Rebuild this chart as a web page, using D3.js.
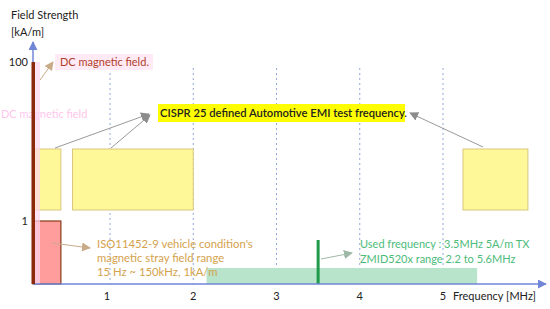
<!DOCTYPE html>
<html><head><meta charset="utf-8">
<script src="https://cdn.jsdelivr.net/npm/d3@7"></script>
<style>body{margin:0;background:#fff}svg{display:block;font-family:Lato,"Open Sans",sans-serif}</style>
</head><body><svg id="c" width="550" height="309"></svg>
<script>
const xTicks = [1, 2, 3, 4, 5];
const yTicks = [1, 100];
// CISPR bands: [x0 MHz, x1 MHz]
const cisprBands = [[0.09, 0.41], [0.55, 2.0], [5.24, 6.02]];
const isoBand = [0.075, 0.41, 0, 1];
const zmidBand = [2.16, 5.41];
const dcField = [0.075, 100];
const usedFreq = [3.5, 0.7];

const svg = d3.select("#c");
const x = d3.scaleLinear().domain([0, 5]).range([26.75, 443]);
const y = d3.scaleLinear().domain([0, 1, 100]).range([284, 221, 62]);

const defs = svg.append("defs");
function marker(id, color) {
  defs.append("marker").attr("id", id).attr("viewBox", "0 0 10 10").attr("refX", 9).attr("refY", 5)
    .attr("markerWidth", 9).attr("markerHeight", 9).attr("markerUnits", "userSpaceOnUse").attr("orient", "auto")
    .append("path").attr("d", "M0,0 L10,5 L0,10 z").attr("fill", color);
}
marker("ag", "#8c8c8c"); marker("at", "#c9ab8a"); marker("ab", "#6f86d6"); marker("agr", "#9fb8a8");

// dashed gridlines
svg.selectAll(".grid").data(xTicks).enter().append("line")
  .attr("x1", d => x(d)).attr("x2", d => x(d)).attr("y1", 68).attr("y2", 284)
  .attr("stroke", "#8fa9d9").attr("stroke-width", 1).attr("stroke-dasharray", "2,3");

// ghost pink text
svg.append("text").attr("x", 1).attr("y", 118).attr("font-size", 11).attr("fill", "#ffb3e6").attr("opacity", 0.75).text("DC magnetic field");

// CISPR yellow boxes
svg.selectAll(".cb").data(cisprBands).enter().append("rect")
  .attr("x", d => x(d[0])).attr("width", d => x(d[1]) - x(d[0]))
  .attr("y", 149).attr("height", 61)
  .attr("fill", "#fff899").attr("stroke", "#d9c77f").attr("stroke-width", 1);

// ZMID green band
svg.append("rect").attr("x", x(zmidBand[0])).attr("width", x(zmidBand[1]) - x(zmidBand[0]))
  .attr("y", 268).attr("height", 16).attr("fill", "#b9e4cc");

// ISO red box
svg.append("rect").attr("x", x(isoBand[0])).attr("width", x(isoBand[1]) - x(isoBand[0]))
  .attr("y", y(isoBand[3])).attr("height", y(isoBand[2]) - y(isoBand[3]))
  .attr("fill", "#ff9c9c").attr("stroke", "#8b3a1a").attr("stroke-width", 1.2);

// DC pink glow
svg.append("rect").attr("x", x(dcField[0])).attr("width", 7).attr("y", y(dcField[1])).attr("height", 284 - y(dcField[1])).attr("fill", "#ffd6ef").attr("opacity", 0.7);

// used frequency bar
svg.append("rect").attr("x", x(usedFreq[0]) - 1.5).attr("width", 3).attr("y", 240).attr("height", 44).attr("fill", "#1f9a4a");

// axes
svg.append("line").attr("x1", 33).attr("x2", 33).attr("y1", 284).attr("y2", 42).attr("stroke", "#6f86d6").attr("stroke-width", 1.5).attr("marker-end", "url(#ab)");
svg.append("line").attr("x1", 33).attr("x2", 546).attr("y1", 284).attr("y2", 284).attr("stroke", "#6f86d6").attr("stroke-width", 1.5).attr("marker-end", "url(#ab)");

// DC bar on top of axis
svg.append("rect").attr("x", x(dcField[0]) - 1.5).attr("width", 3.5).attr("y", y(dcField[1])).attr("height", 284 - y(dcField[1])).attr("fill", "#8b2a0a");

// tick labels
svg.selectAll(".xt").data(xTicks).enter().append("text")
  .attr("x", d => x(d) - (d === 1 ? 3 : 0)).attr("y", 300).attr("text-anchor", "middle").attr("font-size", 11).attr("fill", "#222").text(d => d);
svg.append("text").attr("x", 453).attr("y", 300).attr("font-size", 11).attr("fill", "#222").text("Frequency [MHz]");
svg.selectAll(".yt").data(yTicks).enter().append("text")
  .attr("x", 28).attr("y", d => y(d) + 4).attr("text-anchor", "end").attr("font-size", 11).attr("fill", "#222").text(d => d);
svg.append("text").attr("x", 11).attr("y", 19).attr("font-size", 11).attr("fill", "#222").text("Field Strength");
svg.append("text").attr("x", 11).attr("y", 36).attr("font-size", 11).attr("fill", "#222").text("[kA/m]");

// DC label
svg.append("rect").attr("x", 55).attr("y", 54).attr("width", 98).attr("height", 16).attr("fill", "#ffeaf5");
svg.append("text").attr("x", 60).attr("y", 66).attr("font-size", 11).attr("fill", "#b0402a").text("DC magnetic field.");
svg.append("line").attr("x1", 40).attr("y1", 80).attr("x2", 53).attr("y2", 62).attr("stroke", "#c9ab8a").attr("stroke-width", 1).attr("marker-end", "url(#at)");

// CISPR label
svg.append("rect").attr("x", 158).attr("y", 104).attr("width", 247).attr("height", 18).attr("fill", "#ffff00");
svg.append("text").attr("x", 160).attr("y", 117).attr("font-size", 11.2).attr("font-weight", 600).attr("fill", "#222").text("CISPR 25 defined Automotive EMI test frequency.");
[[55, 148, 149, 114], [111, 148, 150, 115], [483, 147, 410, 113]].forEach(a => {
  svg.append("line").attr("x1", a[0]).attr("y1", a[1]).attr("x2", a[2]).attr("y2", a[3]).attr("stroke", "#9a9a9a").attr("stroke-width", 1).attr("marker-end", "url(#ag)");
});

// ISO label
const isoLines = ["ISO11452-9  vehicle condition's", "magnetic stray field range", "15 Hz ~ 150kHz, 1kA/m"];
svg.selectAll(".iso").data(isoLines).enter().append("text")
  .attr("x", 97).attr("y", (d, i) => 248 + i * 14).attr("font-size", 11.3).attr("fill", "#d4a24c").text(d => d);
svg.append("line").attr("x1", 52).attr("y1", 243).attr("x2", 90).attr("y2", 248).attr("stroke", "#c9ab8a").attr("stroke-width", 1).attr("marker-end", "url(#at)");

// Used frequency label
const usedLines = ["Used frequency : 3.5MHz 5A/m  TX", "ZMID520x range 2.2 to 5.6MHz"];
svg.selectAll(".used").data(usedLines).enter().append("text")
  .attr("x", 360).attr("y", (d, i) => 248 + i * 15).attr("font-size", 11).attr("fill", "#4cbb7a").text(d => d);
svg.append("line").attr("x1", 321).attr("y1", 259).attr("x2", 352).attr("y2", 253).attr("stroke", "#9fb8a8").attr("stroke-width", 1).attr("marker-end", "url(#agr)");
</script></body></html>
